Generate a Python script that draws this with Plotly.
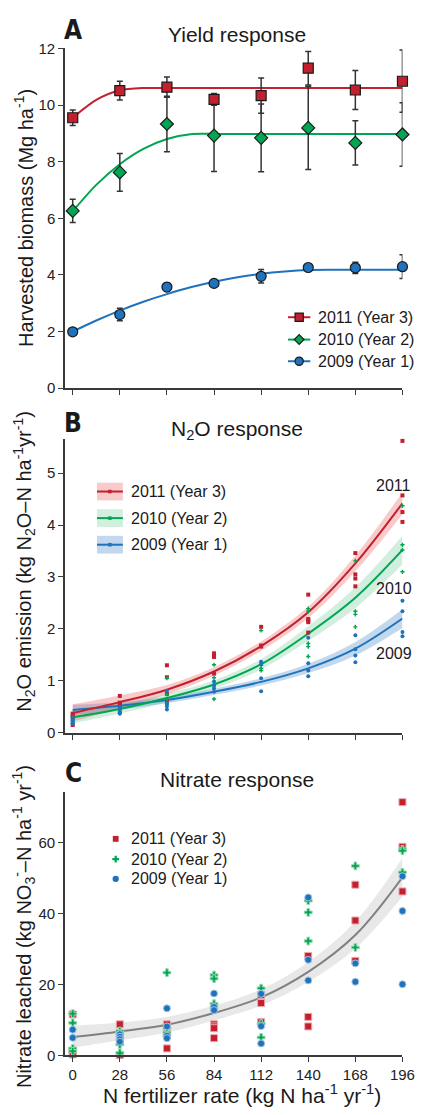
import plotly.graph_objects as go

# ---------------- data ----------------
rates = [0, 28, 56, 84, 112, 140, 168, 196]
fit_rates = [0, 14, 28, 42, 56, 70, 84, 98, 112, 126, 140, 154, 168, 182, 196]
tick_labels = ["0", "28", "56", "84", "112", "140", "168", "196"]

# Panel A: yield (Mg/ha) means and error bars
yield_2011 = [9.55, 10.51, 10.63, 10.20, 10.33, 11.30, 10.53, 10.84]
yield_2011_err = [0.27, 0.33, 0.36, 0.21, 0.62, 0.59, 0.69, 1.10]
yield_2010 = [6.26, 7.62, 9.33, 8.92, 8.84, 9.19, 8.66, 8.96]
yield_2010_err = [0.41, 0.67, 0.98, 1.27, 1.20, 1.47, 0.78, 1.12]
yield_2009 = [1.99, 2.60, 3.57, 3.70, 3.95, 4.26, 4.25, 4.29]
yield_2009_err = [0.10, 0.22, 0.15, 0.12, 0.24, 0.13, 0.20, 0.42]

yield_fit_2011 = [9.55, 10.18, 10.52, 10.60, 10.60, 10.60, 10.60, 10.60, 10.60, 10.60, 10.60, 10.60, 10.60, 10.60, 10.60]
yield_fit_2010 = [6.25, 7.18, 7.91, 8.45, 8.80, 8.97, 8.98, 8.98, 8.98, 8.98, 8.98, 8.98, 8.98, 8.98, 8.98]
yield_fit_2009 = [2.00, 2.39, 2.74, 3.05, 3.32, 3.56, 3.76, 3.92, 4.04, 4.12, 4.17, 4.18, 4.18, 4.18, 4.18]

# Panel B: N2O emission replicates per rate
n2o_2011 = [[0.37, 0.34, 0.30, 0.15], [0.71, 0.58, 0.57, 0.55], [1.30, 1.07, 0.75, 0.62],
            [1.53, 1.49, 1.46, 1.14], [2.04, 1.68, 1.66], [2.66, 2.19, 2.16, 2.13, 1.93],
            [3.46, 3.05, 2.97, 2.82], [5.62, 4.57, 4.25, 4.06]]
n2o_2010 = [[0.30, 0.25, 0.22, 0.18], [0.50, 0.44, 0.40, 0.37], [1.05, 0.74, 0.65, 0.55],
            [1.31, 1.06, 0.93, 0.65], [1.97, 1.30, 1.24, 1.20], [2.39, 2.34, 1.72, 1.66, 1.47],
            [3.31, 2.34, 2.28, 2.04], [4.37, 3.62, 3.52, 3.10]]
n2o_2009 = [[0.28, 0.24, 0.20, 0.17], [0.50, 0.47, 0.40, 0.37], [0.81, 0.57, 0.51, 0.45],
            [0.99, 0.91, 0.86, 0.79], [1.37, 1.33, 1.05, 0.80], [1.83, 1.34, 1.20, 1.09],
            [1.88, 1.61, 1.49, 1.36], [2.54, 2.34, 1.94, 1.86]]

n2o_fit_2011 = [0.38, 0.59, 0.83, 1.18, 1.67, 2.32, 3.26, 4.42]
n2o_hi_2011 = [0.55, 0.72, 0.92, 1.26, 1.76, 2.43, 3.41, 4.63]
n2o_lo_2011 = [0.22, 0.47, 0.74, 1.10, 1.58, 2.21, 3.11, 4.21]
n2o_fit_2010 = [0.30, 0.46, 0.67, 0.93, 1.32, 1.91, 2.60, 3.52]
n2o_hi_2010 = [0.41, 0.55, 0.75, 1.01, 1.42, 2.05, 2.80, 3.80]
n2o_lo_2010 = [0.18, 0.37, 0.59, 0.85, 1.22, 1.77, 2.40, 3.24]
n2o_fit_2009 = [0.44, 0.52, 0.63, 0.79, 0.98, 1.24, 1.62, 2.20]
n2o_hi_2009 = [0.54, 0.59, 0.69, 0.85, 1.05, 1.33, 1.75, 2.38]
n2o_lo_2009 = [0.34, 0.45, 0.57, 0.73, 0.91, 1.15, 1.49, 2.02]

# Panel C: nitrate leached replicates per rate
no3_2011 = [[11.6, 1.3, 0.8, 0.3], [8.8, 5.1, 4.3, 0.1], [8.8, 6.1, 5.8, 2.0], [8.8, 8.2, 7.7, 4.9],
            [17.1, 14.8, 9.4], [28.1, 10.9, 8.2], [48.2, 38.1, 26.7], [71.5, 58.9, 46.3]]
no3_2010 = [[11.8, 9.2, 2.0, 1.2], [6.9, 6.2, 3.1, 0.7], [23.4, 7.7, 6.5, 5.6], [22.7, 21.7, 14.6, 13.6],
            [19.0, 9.0, 5.1], [43.7, 40.4, 32.3], [53.5, 30.5], [58.2, 57.8, 51.7]]
no3_2009 = [[7.3, 5.0], [6.0, 5.3, 4.6, 3.9], [13.3, 8.2, 5.6, 4.9], [17.5, 13.7, 12.8],
            [17.4, 8.3, 3.4], [44.6, 27.0, 21.2], [26.0, 20.8], [50.6, 40.8, 20.1]]
no3_fit = [5.2, 6.8, 8.7, 12.0, 16.4, 23.6, 34.0, 50.3]
no3_hi = [8.4, 9.3, 10.9, 14.1, 18.7, 26.4, 37.8, 55.8]
no3_lo = [2.2, 4.3, 6.5, 9.9, 14.1, 20.8, 30.2, 44.8]

year_names = ["2011 (Year 3)", "2010 (Year 2)", "2009 (Year 1)"]

# ---------------- styles ----------------
W, H = 430, 1115
FONT = "Liberation Sans, Arial, Helvetica, sans-serif"
NARROW = "Liberation Sans Narrow, Arial Narrow, DejaVu Sans Condensed, sans-serif"
RED, GREEN, BLUE = "#C3202F", "#00A651", "#1F72BC"
RED_BAND, GREEN_BAND, BLUE_BAND = "rgba(232,80,80,0.30)", "rgba(0,160,80,0.18)", "rgba(40,110,190,0.28)"
AX = "#3a3a3a"
TXT = "#1a1a1a"


def px(x):
    return x / W


def py(y):
    return 1 - y / H


def flat(groups):
    xs, ys = [], []
    for r, g in zip(rates, groups):
        for v in g:
            xs.append(r)
            ys.append(v)
    return xs, ys


def poly_path(points):
    return "M " + " L ".join("%.5f,%.5f" % (px(a), py(b)) for a, b in points) + " Z"


def legend_marker(sym, cx, cy, s, fill, edge=None, ew=0):
    """Legend swatch marker drawn as a paper-space shape (pixel size s)."""
    h = s / 2.0
    line = dict(color=edge, width=ew) if edge else dict(width=0)
    if sym == "square":
        return dict(type="rect", xref="paper", yref="paper", x0=px(cx - h), x1=px(cx + h),
                    y0=py(cy + h), y1=py(cy - h), fillcolor=fill, line=line)
    if sym == "circle":
        return dict(type="circle", xref="paper", yref="paper", x0=px(cx - h), x1=px(cx + h),
                    y0=py(cy + h), y1=py(cy - h), fillcolor=fill, line=line)
    if sym == "diamond":
        return dict(type="path", xref="paper", yref="paper",
                    path=poly_path([(cx, cy - h), (cx + h, cy), (cx, cy + h), (cx - h, cy)]),
                    fillcolor=fill, line=line)
    t = s / 6.0  # cross
    pts = [(cx - t, cy - h), (cx + t, cy - h), (cx + t, cy - t), (cx + h, cy - t), (cx + h, cy + t),
           (cx + t, cy + t), (cx + t, cy + h), (cx - t, cy + h), (cx - t, cy + t), (cx - h, cy + t),
           (cx - h, cy - t), (cx - t, cy - t)]
    return dict(type="path", xref="paper", yref="paper", path=poly_path(pts), fillcolor=fill, line=line)


fig = go.Figure()

# ---------------- Panel A ----------------
for fit, col in [(yield_fit_2011, RED), (yield_fit_2010, GREEN), (yield_fit_2009, BLUE)]:
    fig.add_trace(go.Scatter(x=fit_rates, y=fit, mode="lines",
                             line=dict(color=col, width=2, shape="spline", smoothing=0.8),
                             showlegend=False, hoverinfo="skip", xaxis="x", yaxis="y"))

for vals, err, col, sym in [
    (yield_2009, yield_2009_err, BLUE, "circle"),
    (yield_2010, yield_2010_err, GREEN, "diamond"),
    (yield_2011, yield_2011_err, RED, "square"),
]:
    fig.add_trace(go.Scatter(x=rates, y=vals, mode="markers",
                             error_y=dict(type="data", array=err, color="#333333", thickness=1.5, width=3),
                             marker=dict(color=col, symbol=sym, size=10, line=dict(color="#1a1a1a", width=1.2)),
                             cliponaxis=False, showlegend=False, xaxis="x", yaxis="y"))

# ---------------- Panel B ----------------
for lo, hi, band in [(n2o_lo_2009, n2o_hi_2009, BLUE_BAND), (n2o_lo_2010, n2o_hi_2010, GREEN_BAND),
                     (n2o_lo_2011, n2o_hi_2011, RED_BAND)]:
    fig.add_trace(go.Scatter(x=rates, y=lo, mode="lines", line=dict(width=0, shape="spline"),
                             showlegend=False, hoverinfo="skip", xaxis="x2", yaxis="y2"))
    fig.add_trace(go.Scatter(x=rates, y=hi, mode="lines", line=dict(width=0, shape="spline"), fill="tonexty",
                             fillcolor=band, showlegend=False, hoverinfo="skip", xaxis="x2", yaxis="y2"))

for fit, col in [(n2o_fit_2009, BLUE), (n2o_fit_2010, GREEN), (n2o_fit_2011, RED)]:
    fig.add_trace(go.Scatter(x=rates, y=fit, mode="lines", line=dict(color=col, width=2, shape="spline"),
                             showlegend=False, hoverinfo="skip", xaxis="x2", yaxis="y2"))

for groups, col, sym, sz in [(n2o_2011, RED, "square", 4), (n2o_2010, GREEN, "cross", 3.5),
                             (n2o_2009, BLUE, "circle", 4)]:
    xs, ys = flat(groups)
    fig.add_trace(go.Scatter(x=xs, y=ys, mode="markers", marker=dict(color=col, symbol=sym, size=sz),
                             cliponaxis=False, showlegend=False, xaxis="x2", yaxis="y2"))

# ---------------- Panel C ----------------
fig.add_trace(go.Scatter(x=rates, y=no3_lo, mode="lines", line=dict(width=0, shape="spline"),
                         showlegend=False, hoverinfo="skip", xaxis="x3", yaxis="y3"))
fig.add_trace(go.Scatter(x=rates, y=no3_hi, mode="lines", line=dict(width=0, shape="spline"), fill="tonexty",
                         fillcolor="rgba(0,0,0,0.09)", showlegend=False, hoverinfo="skip", xaxis="x3", yaxis="y3"))
fig.add_trace(go.Scatter(x=rates, y=no3_fit, mode="lines", line=dict(color="#808080", width=2, shape="spline"),
                         showlegend=False, hoverinfo="skip", xaxis="x3", yaxis="y3"))

for groups, col, edge, sym, sz in [(no3_2011, RED, "#EBA9AE", "square", 7),
                                   (no3_2010, GREEN, "#96D9B3", "cross", 6.5),
                                   (no3_2009, BLUE, "#A3C6E6", "circle", 7)]:
    xs, ys = flat(groups)
    fig.add_trace(go.Scatter(x=xs, y=ys, mode="markers",
                             marker=dict(color=col, symbol=sym, size=sz, line=dict(color=edge, width=1)),
                             cliponaxis=False, showlegend=False, xaxis="x3", yaxis="y3"))

# ---------------- axes ----------------
xdom = [px(67), px(415)]
xr = [-4.6, 196]
common_x = dict(domain=xdom, range=xr, showline=True, linecolor=AX, linewidth=1.5, ticks="outside",
                ticklen=5, tickwidth=1.2, tickcolor=AX, tickvals=rates, showgrid=False, zeroline=False,
                fixedrange=True)
common_y = dict(showline=True, linecolor=AX, linewidth=1.5, ticks="outside", ticklen=5, tickwidth=1.2,
                tickcolor=AX, showgrid=False, zeroline=False, tickfont=dict(size=15, color="#222", family=FONT),
                fixedrange=True)

fig.update_layout(
    width=W, height=H, margin=dict(l=0, r=0, t=0, b=0),
    paper_bgcolor="white", plot_bgcolor="white",
    font=dict(family=FONT, size=15, color="#222"),
    showlegend=False,
    xaxis=dict(common_x, anchor="y", showticklabels=False),
    yaxis=dict(common_y, domain=[py(385), py(40)], range=[0, 12], tickvals=[0, 2, 4, 6, 8, 10, 12], anchor="x"),
    xaxis2=dict(common_x, anchor="y2", showticklabels=False),
    yaxis2=dict(common_y, domain=[py(735), py(437)], range=[0, 5.65], tickvals=[0, 1, 2, 3, 4, 5], anchor="x2"),
    xaxis3=dict(common_x, anchor="y3", showticklabels=True, ticktext=tick_labels,
                tickfont=dict(size=15, color="#222", family=FONT)),
    yaxis3=dict(common_y, domain=[py(1062.7), py(795)], range=[0, 74.4], tickvals=[0, 20, 40, 60], anchor="x3"),
)

ann = []
shapes = []
# panel letters
for letter, y in [("A", 21.5), ("B", 420.5), ("C", 776)]:
    ann.append(dict(text="<b>%s</b>" % letter, x=px(75.5), y=py(y), xref="paper", yref="paper",
                    showarrow=False, xanchor="center", yanchor="middle",
                    font=dict(family=NARROW, size=26, color=TXT)))
# panel titles
for t, y in [("Yield response", 26), ("N<sub>2</sub>O response", 428), ("Nitrate response", 782)]:
    ann.append(dict(text=t, x=px(244.5), y=py(y), xref="paper", yref="paper", showarrow=False,
                    xanchor="center", yanchor="middle", font=dict(family=FONT, size=21, color=TXT)))
# y-axis titles
for t, y in [("Harvested biomass (Mg ha<sup>-1</sup>)", 212),
             ("N<sub>2</sub>O emission (kg N<sub>2</sub>O–N ha<sup>-1</sup>yr<sup>-1</sup>)", 561),
             ("Nitrate leached (kg NO<sub>3</sub><sup>-</sup>–N ha<sup>-1</sup> yr<sup>-1</sup>)", 932)]:
    ann.append(dict(text=t, x=px(25), y=py(y), xref="paper", yref="paper", showarrow=False, textangle=-90,
                    xanchor="center", yanchor="middle", font=dict(family=FONT, size=20, color=TXT)))
# x-axis title
ann.append(dict(text="N fertilizer rate (kg N ha<sup>-1</sup> yr<sup>-1</sup>)", x=px(249.5), y=py(1102),
                xref="paper", yref="paper", showarrow=False, xanchor="center", yanchor="middle",
                font=dict(family=FONT, size=21, color=TXT)))
# curve labels in panel B
for t, yv in [("2011", 4.77), ("2010", 2.77), ("2009", 1.52)]:
    ann.append(dict(text=t, x=190.8, y=yv, xref="x2", yref="y2", showarrow=False, xanchor="center",
                    yanchor="middle", font=dict(family=FONT, size=16, color=TXT)))

# legend A: line + outlined marker
for (t, col, sym), yc in zip([(year_names[0], RED, "square"), (year_names[1], GREEN, "diamond"),
                              (year_names[2], BLUE, "circle")], [313, 335.7, 357.7]):
    shapes.append(dict(type="line", xref="paper", yref="paper", x0=px(297), x1=px(320), y0=py(yc), y1=py(yc),
                       line=dict(color=col, width=2)))
    shapes.append(legend_marker(sym, 308.5, yc, 8.5 if sym != "diamond" else 10, col, "#1a1a1a", 1.2))
    ann.append(dict(text=t, x=px(326), y=py(yc), xref="paper", yref="paper", showarrow=False,
                    xanchor="left", yanchor="middle", font=dict(family=FONT, size=16, color=TXT)))

# legend B: band swatch + line + marker
for (t, col, band), yc in zip([(year_names[0], RED, RED_BAND), (year_names[1], GREEN, GREEN_BAND),
                               (year_names[2], BLUE, BLUE_BAND)], [490, 517, 544]):
    shapes.append(dict(type="rect", xref="paper", yref="paper", x0=px(100), x1=px(126.7), y0=py(yc + 9),
                       y1=py(yc - 9), fillcolor=band, line=dict(width=0), layer="below"))
    shapes.append(dict(type="line", xref="paper", yref="paper", x0=px(100), x1=px(126.7), y0=py(yc), y1=py(yc),
                       line=dict(color=col, width=2)))
    shapes.append(legend_marker("square", 113.3, yc, 3.6, col))
    ann.append(dict(text=t, x=px(132.7), y=py(yc), xref="paper", yref="paper", showarrow=False,
                    xanchor="left", yanchor="middle", font=dict(family=FONT, size=16, color=TXT)))

# legend C: markers only
for (t, col, sym, s), yc in zip([(year_names[0], RED, "square", 6), (year_names[1], GREEN, "cross", 7),
                                 (year_names[2], BLUE, "circle", 6.5)], [842.7, 863.3, 883.3]):
    shapes.append(legend_marker(sym, 119.3, yc, s, col))
    ann.append(dict(text=t, x=px(132.7), y=py(yc), xref="paper", yref="paper", showarrow=False,
                    xanchor="left", yanchor="middle", font=dict(family=FONT, size=16, color=TXT)))

fig.update_layout(annotations=ann, shapes=shapes)
fig.write_html("out.html")
